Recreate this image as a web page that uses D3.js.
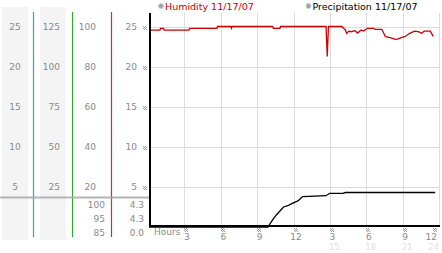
<!DOCTYPE html>
<html><head><meta charset="utf-8">
<script src="https://cdn.jsdelivr.net/npm/d3@7"></script>
<style>
html,body{margin:0;padding:0;background:#fff;}
svg{display:block;font-family:"DejaVu Sans",Verdana,sans-serif;}
</style></head>
<body><svg id="c" width="442" height="253"></svg>
<script>
// ---- data ----
const seriesNames = ["Humidity 11/17/07", "Precipitation 11/17/07"];
const col1Ticks = [25, 20, 15, 10, 5];
const col2Ticks = [125, 100, 75, 50, 25];
const col3Ticks = [100, 80, 60, 40, 20];
const col4Ticks = [25, 20, 15, 10, 5];
const humiditySummary = ["100", "95", "85"];      // max, current, min
const precipSummary = ["4.3", "4.3", "0.0"];
const hourTicks = [3, 6, 9, 12, 15, 18, 21, 24];
const hourLabels12 = ["3", "6", "9", "12", "3", "6", "9", "12"];
const hourLabels24 = ["", "", "", "", "15", "18", "21", "24"];

const humTime = [0, 0.9, 0.95, 1.2, 1.25, 3.3, 3.35, 5.6, 5.65, 6.75, 6.8, 6.85, 10.2, 10.25, 10.8, 10.85,
  14.6, 14.7, 14.8, 15.9, 16.2, 16.3, 16.5, 16.7, 17.0, 17.2, 17.5, 17.7, 18.0, 18.5, 18.7, 19.2, 19.5, 19.9,
  20.3, 20.5, 20.8, 21.1, 21.5, 21.9, 22.2, 22.5, 22.7, 23.2, 23.3, 23.45];
const humValue = [98.2, 98.2, 99.1, 99.1, 98.2, 98.2, 99.1, 99.1, 100, 100, 99.1, 100, 100, 99.1, 99.1, 100,
  100, 85, 100, 100, 98.2, 96.6, 97.7, 97.4, 97.9, 96.7, 98.2, 97.7, 99.1, 99.1, 98.6, 98.6, 94.9, 94.4,
  93.6, 93.7, 94.4, 94.9, 96.6, 97.7, 97.4, 96.6, 97.7, 97.7, 96.6, 95];

const precTime = [0, 9.8, 10.25, 10.5, 11.1, 11.5, 11.9, 12.2, 12.4, 12.6, 12.7, 14.6, 14.9, 16.0, 16.2, 23.6];
const precValue = [0, 0, 1.0, 1.5, 2.5, 2.7, 3.0, 3.2, 3.4, 3.7, 3.8, 3.9, 4.2, 4.2, 4.3, 4.3];

// ---- scales ----
const svg = d3.select("#c");
const x = d3.scaleLinear().domain([0, 24]).range([149, 440]);
const yP = d3.scaleLinear().domain([0, 25]).range([227, 26.5]);
const yH = d3.scaleLinear().domain([0, 100]).range([227, 26.5]);
const gray = "#8a8a8a";

// left panel backgrounds
svg.append("rect").attr("x", 2).attr("y", 7).attr("width", 26).attr("height", 233).attr("fill", "#f4f4f4");
svg.append("rect").attr("x", 40).attr("y", 7).attr("width", 26).attr("height", 233).attr("fill", "#f4f4f4");

// colored separators
[[33.5, "#2f9fd0"], [72.5, "#2eaa2e"], [111.5, "#d02e2e"]].forEach(([lx, c]) => {
  svg.append("line").attr("x1", lx).attr("x2", lx).attr("y1", 12).attr("y2", 237)
    .attr("stroke", c).attr("stroke-width", 1.2);
});

// gray divider
svg.append("line").attr("x1", 0).attr("x2", 150).attr("y1", 197.5).attr("y2", 197.5)
  .attr("stroke", "#a8a8a8").attr("stroke-width", 2).attr("opacity", 0.85);

// left tick labels
function col(vals, xpos, anchor) {
  svg.append("g").selectAll("text").data(vals).join("text")
    .attr("x", xpos).attr("y", (d, i) => yP(col1Ticks[i]) + 3.5)
    .attr("text-anchor", anchor).attr("font-size", 9).attr("fill", gray).text(d => d);
}
col(col1Ticks, 15, "middle");
col(col2Ticks, 60, "end");
col(col3Ticks, 96, "end");
col(col4Ticks, 137, "end");

// summary rows
const sumY = [208, 222, 236];
svg.append("g").selectAll("text").data(humiditySummary).join("text")
  .attr("x", 105).attr("y", (d, i) => sumY[i]).attr("text-anchor", "end")
  .attr("font-size", 9).attr("fill", gray).text(d => d);
svg.append("g").selectAll("text").data(precipSummary).join("text")
  .attr("x", 144).attr("y", (d, i) => sumY[i]).attr("text-anchor", "end")
  .attr("font-size", 9).attr("fill", gray).text(d => d);

// gridlines
svg.append("g").selectAll("line").data(hourTicks).join("line")
  .attr("x1", d => Math.round(x(d)) - 0.5).attr("x2", d => Math.round(x(d)) - 0.5)
  .attr("y1", 13).attr("y2", 225).attr("stroke", "#dcdcdc");
svg.append("g").selectAll("line").data(col4Ticks).join("line")
  .attr("x1", 150).attr("x2", 440).attr("y1", d => Math.round(yP(d)) + 0.5).attr("y2", d => Math.round(yP(d)) + 0.5)
  .attr("stroke", "#dcdcdc");

// small markers
function marker(cx, cy) {
  const g = svg.append("g").attr("fill", "#9a9a9a");
  [[-2, -2], [0, -2], [-1, -1], [1, -1], [-2, 0], [0, 0], [-1, 1], [1, 1]].forEach(([dx, dy]) => {
    g.append("rect").attr("x", cx + dx).attr("y", cy + dy).attr("width", 1).attr("height", 1);
  });
}
col4Ticks.forEach(v => marker(145, Math.round(yP(v)) + 1));
hourTicks.forEach((h, i) => marker(Math.round(x(h)) + (i === 7 ? -5 : 1), 230));

// lines
const lineH = d3.line().x((d, i) => x(humTime[i])).y(d => yH(d));
svg.append("path").datum(humValue).attr("d", lineH).attr("fill", "none")
  .attr("stroke", "#cc0000").attr("stroke-width", 1.3);
const lineP = d3.line().x((d, i) => x(precTime[i])).y(d => yP(d));
svg.append("path").datum(precValue).attr("d", lineP).attr("fill", "none")
  .attr("stroke", "#000").attr("stroke-width", 1.3);

// axes
svg.append("line").attr("x1", 150).attr("x2", 150).attr("y1", 13).attr("y2", 227)
  .attr("stroke", "#000").attr("stroke-width", 2);
svg.append("line").attr("x1", 149).attr("x2", 440).attr("y1", 226).attr("y2", 226)
  .attr("stroke", "#000").attr("stroke-width", 2);

// x labels
svg.append("text").attr("x", 154).attr("y", 235).attr("font-size", 9).attr("fill", gray).text("Hours");
svg.append("g").selectAll("text").data(hourTicks).join("text")
  .attr("x", (d, i) => i === 7 ? 437 : x(d) + 1.5).attr("y", 239.5)
  .attr("text-anchor", (d, i) => i === 7 ? "end" : "middle")
  .attr("font-size", 9).attr("fill", gray).text((d, i) => hourLabels12[i]);
svg.append("g").selectAll("text").data(hourTicks).join("text")
  .attr("x", (d, i) => i === 7 ? 439 : x(d) + 3.5).attr("y", 249.5)
  .attr("text-anchor", (d, i) => i === 7 ? "end" : "middle")
  .attr("font-size", 8.5).attr("fill", "#e2e2e2").text((d, i) => hourLabels24[i]);

// legend
const legX = [161, 308.5], legC = ["#cc0000", "#000"];
seriesNames.forEach((n, i) => {
  svg.append("circle").attr("cx", legX[i]).attr("cy", 6).attr("r", 2.5)
    .attr("fill", "#a0a0a0").attr("stroke", "#d0d0d0").attr("stroke-width", 1);
  svg.append("text").attr("x", legX[i] + 4).attr("y", 9.5).attr("font-size", 9.5)
    .attr("fill", legC[i]).text(n);
});
</script></body></html>
